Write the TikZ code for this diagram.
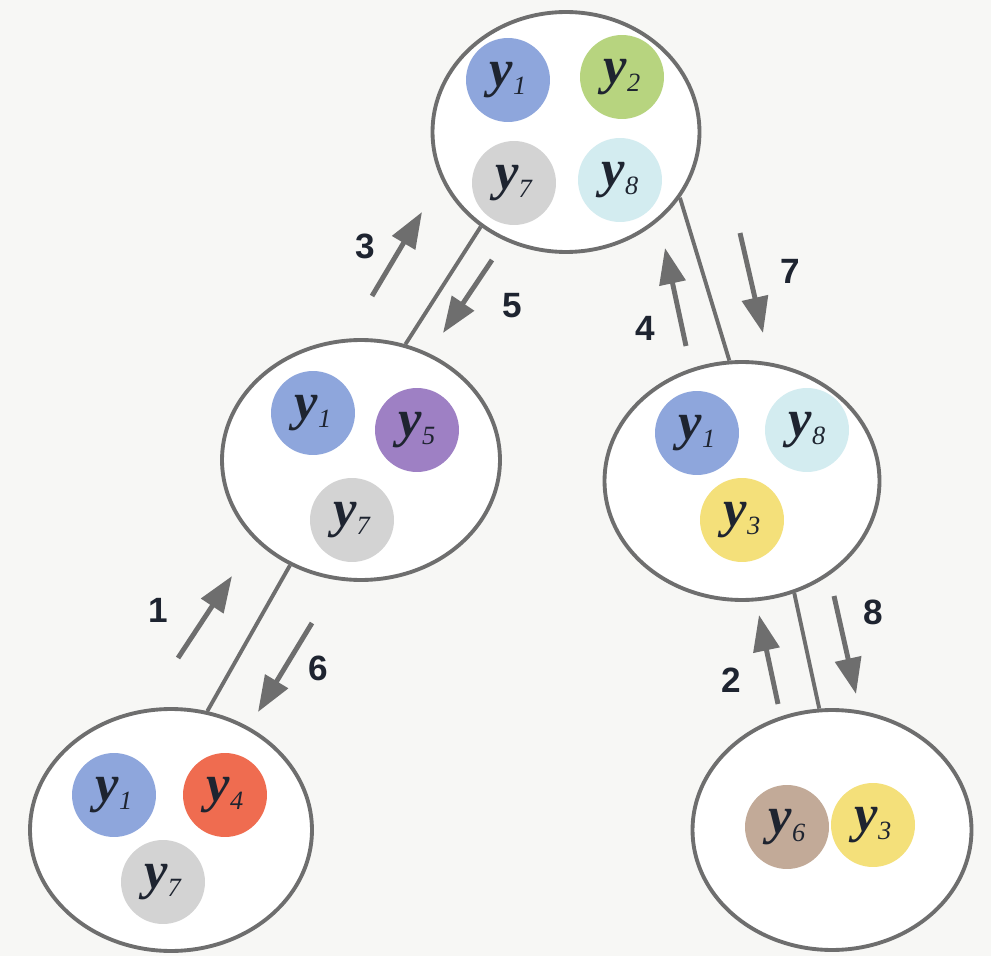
\documentclass[tikz,border=0pt]{standalone}
\usepackage{fontspec}
\setmainfont{Liberation Serif}
\setsansfont{Liberation Sans}
\usepackage{tikz}
\usetikzlibrary{arrows.meta, shapes.geometric}
\definecolor{Paper}{HTML}{F7F7F5}
\definecolor{Edge}{HTML}{6E6E6E}
\definecolor{Ink}{HTML}{1E2430}
\definecolor{YBlue}{HTML}{8EA6DC}
\definecolor{YGreen}{HTML}{B7D47F}
\definecolor{YGrey}{HTML}{D3D3D3}
\definecolor{YCyan}{HTML}{D3ECF0}
\definecolor{YPurple}{HTML}{9E80C4}
\definecolor{YRed}{HTML}{EF6C50}
\definecolor{YYellow}{HTML}{F4E07A}
\definecolor{YTan}{HTML}{C2AA98}
\newcommand{\yv}[1]{\textbf{\textit{y}}\raisebox{-0.32ex}{\fontsize{15}{15}\selectfont\textit{#1}}}

\begin{document}
\begin{tikzpicture}[x=0.02cm, y=-0.02cm,
  group/.style={ellipse, draw=Edge, line width=2.2pt, fill=white, inner sep=0pt},
  ball/.style={circle, fill=#1, minimum size=1.68cm, inner sep=0pt, text=Ink,
               font=\fontsize{30}{32}\selectfont},
  link/.style={draw=Edge, line width=2.2pt},
  flow/.style={-{Triangle[length=0.72cm, width=0.52cm]}, line width=2.8pt, Edge},
  num/.style={font=\sffamily\bfseries\fontsize{20}{22}\selectfont, text=Ink},
]
\fill[Paper] (0,0) rectangle (991,956);
\useasboundingbox (0,0) rectangle (991,956);
% clusters
\node[group, minimum width=5.34cm, minimum height=4.8cm] (top) at (566,132) {};
\node[group, minimum width=5.56cm, minimum height=4.8cm] (midL) at (361,460) {};
\node[group, minimum width=5.5cm, minimum height=4.76cm] (midR) at (742,481) {};
\node[group, minimum width=5.64cm, minimum height=4.84cm] (botL) at (171,830) {};
\node[group, minimum width=5.58cm, minimum height=4.8cm] (botR) at (832,830) {};
% members
\node[ball=YBlue] (t1) at (508,80) {\yv{1}};
\node[ball=YGreen] (t2) at (622,77) {\yv{2}};
\node[ball=YGrey] (t7) at (514,183) {\yv{7}};
\node[ball=YCyan] (t8) at (620,180) {\yv{8}};
\node[ball=YBlue] (l1) at (313,413) {\yv{1}};
\node[ball=YPurple] (l5) at (417,430) {\yv{5}};
\node[ball=YGrey] (l7) at (352,520) {\yv{7}};
\node[ball=YBlue] (r1) at (697,433) {\yv{1}};
\node[ball=YCyan] (r8) at (807,430) {\yv{8}};
\node[ball=YYellow] (r3) at (742,520) {\yv{3}};
\node[ball=YBlue] (bl1) at (114,795) {\yv{1}};
\node[ball=YRed] (bl4) at (225,795) {\yv{4}};
\node[ball=YGrey] (bl7) at (163,882) {\yv{7}};
\node[ball=YTan] (br6) at (787,827) {\yv{6}};
\node[ball=YYellow] (br3) at (873,825) {\yv{3}};
% tree edges
\draw[link] (top.228) -- (midL.69);
\draw[link] (top.330) -- (midR.96);
\draw[link] (midL.236) -- (botL.73);
\draw[link] (midR.295) -- (botR.96);
% message arrows
\coordinate (a1s) at (178,658); \coordinate (a1e) at (232,576);
\coordinate (a2s) at (778,704); \coordinate (a2e) at (759,615);
\coordinate (a3s) at (372,296); \coordinate (a3e) at (422,212);
\coordinate (a4s) at (686,346); \coordinate (a4e) at (665,248);
\coordinate (a5s) at (492,260); \coordinate (a5e) at (443,333);
\coordinate (a6s) at (312,623); \coordinate (a6e) at (258,712);
\coordinate (a7s) at (740,233); \coordinate (a7e) at (763,333);
\coordinate (a8s) at (834,596); \coordinate (a8e) at (856,694);
\foreach \k in {1,...,8}
  \draw[flow] (a\k s) -- (a\k e);
\node[num] (n1) at (158,610) {1};
\node[num] (n2) at (731,680) {2};
\node[num] (n3) at (365,246) {3};
\node[num] (n4) at (645,328) {4};
\node[num] (n5) at (512,306) {5};
\node[num] (n6) at (318,668) {6};
\node[num] (n7) at (790,271) {7};
\node[num] (n8) at (873,612) {8};
\end{tikzpicture}
\end{document}
